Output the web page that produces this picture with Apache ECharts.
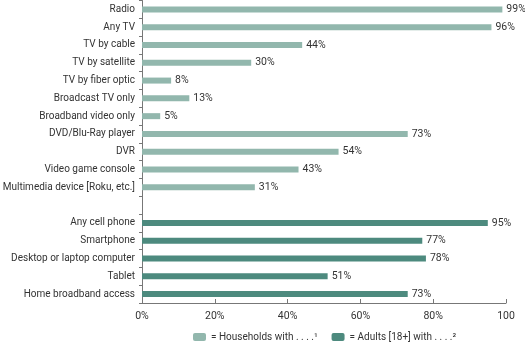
<!DOCTYPE html>
<html><head><meta charset="utf-8">
<script src="https://cdn.jsdelivr.net/npm/echarts@6/dist/echarts.min.js"></script>
<style>html,body{margin:0;padding:0;background:#fff}#c{width:525px;height:345px}</style>
</head><body><div id="c"></div>
<script>
const categories = ['Radio','Any TV','TV by cable','TV by satellite','TV by fiber optic','Broadcast TV only','Broadband video only','DVD/Blu-Ray player','DVR','Video game console','Multimedia device [Roku, etc.]','','Any cell phone','Smartphone','Desktop or laptop computer','Tablet','Home broadband access'];
const households = [99,96,44,30,8,13,5,73,54,43,31,'-','-','-','-','-','-'];
const adults = ['-','-','-','-','-','-','-','-','-','-','-','-',95,77,78,51,73];
const xTicks = [0,20,40,60,80,100];
const FONT = 'Roboto, sans-serif';
const FS = 10.5;
const chart = echarts.init(document.getElementById('c'));
const lbl = {show:true, position:'right', distance:4, formatter:'{c}%', color:'#333', fontSize:FS, fontFamily:FONT};
chart.setOption({
  animation:false,
  grid:{left:142, right:19, top:0.5, bottom:42, containLabel:false, outerBoundsMode:'none'},
  legend:{top:327, left:188, itemWidth:13, itemHeight:8, itemGap:14,
    textStyle:{color:'#333', fontSize:10, fontFamily:FONT},
    formatter:n => n==='Households' ? '= Households with . . . .¹' : '= Adults [18+] with . . . .²',
    data:['Households','Adults']},
  xAxis:{type:'value', min:0, max:100, interval:20,
    axisLine:{show:true, lineStyle:{color:'#777'}},
    axisTick:{show:true, inside:true, length:4, lineStyle:{color:'#777'}},
    splitLine:{show:false},
    axisLabel:{color:'#333', fontSize:FS, fontFamily:FONT, margin:8,
      formatter:v => v===100 ? '100' : v+'%'}},
  yAxis:{type:'category', data:categories, inverse:true,
    axisLine:{show:true, lineStyle:{color:'#777'}},
    axisTick:{show:true, length:3, lineStyle:{color:'#777'}},
    axisLabel:{color:'#333', fontSize:10, fontFamily:FONT, margin:7}},
  series:[
    {name:'Households', type:'bar', data:households, barWidth:6, barGap:'-100%', itemStyle:{color:'#92b7ad'}, label:lbl},
    {name:'Adults', type:'bar', data:adults, barWidth:6, barGap:'-100%', itemStyle:{color:'#4d8a7e'}, label:lbl}
  ]
});
</script></body></html>
